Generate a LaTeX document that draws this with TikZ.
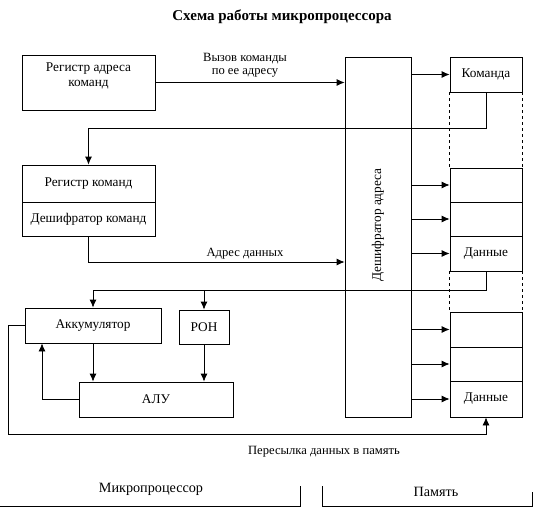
\documentclass[tikz,border=0pt]{standalone}
\usepackage{fontspec}
\setmainfont{Liberation Serif}
\usetikzlibrary{positioning,arrows.meta,calc}

\begin{document}
\begin{tikzpicture}[
  x=1pt,y=-1pt,
  line width=0.8pt,
  every node/.style={font=\fontsize{13.3}{15}\selectfont},
  box/.style={draw,rectangle,inner sep=0pt},
  mem/.style={box,minimum width=72pt},
  arr/.style={-{Latex[length=8pt,width=7pt]}},
  small label/.style={font=\fontsize{12.6}{13.5}\selectfont,align=center}
]
\useasboundingbox (0,0) rectangle (535,508);

% ==================================================
% Заголовок
% ==================================================
\node[font=\fontsize{15}{17}\selectfont\bfseries] (title) at (282,17)
  {Схема работы микропроцессора};

% ==================================================
% Микропроцессор
% ==================================================
\begin{scope}

  % регистры
  \node[box,minimum width=133pt,minimum height=55pt] (rac) at (88.5,82.5) {};
  \node[align=center] (racText) at (88.5,76) {Регистр адреса\\команд};

  \node[box,minimum width=133pt,minimum height=37pt] (rk) at (88.5,183.5)
    {Регистр команд};
  \node[box,minimum width=133pt,minimum height=34pt] (dk) at (88.5,219)
    {Дешифратор команд};

  % аккумулятор, РОН, АЛУ
  \node[box,minimum width=136pt,minimum height=35pt] (acc) at (93,325.5)
    {Аккумулятор};
  \node[box,minimum width=50pt,minimum height=34pt] (ron) at (204,327)
    {РОН};
  \node[box,minimum width=154pt,minimum height=35pt] (alu) at (156,399.5)
    {АЛУ};

\end{scope}

% ==================================================
% Дешифратор адреса и память
% ==================================================
\begin{scope}

  \node[box,minimum width=66pt,minimum height=360pt] (dec) at (378,237) {};
  \node[rotate=90] (decText) at (378,225) {Дешифратор адреса};

  % ячейки памяти
  \foreach \n/\t/\b/\s in {cmd/57/92/Команда, m1/168/202/{}, m2/202/236/{},
      d1/236/271/Данные, m3/312/347/{}, m4/347/381/{}, d2/381/417/Данные}{
    \pgfmathsetmacro\h{\b-\t}
    \pgfmathsetmacro\c{(\t+\b)/2}
    \node[mem,minimum height=\h pt] (\n) at (486,\c) {\s};
  }

  % пропуски между группами
  \foreach \a/\z in {cmd/m1,d1/m3}{
    \draw[dashed] (\a.south west) -- (\a.south west |- \z.north);
    \draw[dashed] (\a.south east) -- (\a.south east |- \z.north);
  }

  % выходы дешифратора
  \foreach \n in {cmd,m1,m2,d1,m3,m4,d2}
    \draw[arr] (dec.east |- \n.west) -- (\n.west);

\end{scope}

% ==================================================
% Связи
% ==================================================
\coordinate (busA) at (0,128);
\coordinate (busB) at (0,262);
\coordinate (busC) at (0,290);
\coordinate (loop) at (42,0);
\coordinate (back) at (8,434);

\draw[arr] (rac.east) -- (dec.west |- rac.east);
\node[small label] (callLabel) at (245,65) {Вызов команды\\по ее адресу};

\draw[arr] (cmd.south) |- (busA -| rk.north) -- (rk.north);

\draw[arr] (dk.south) |- (dec.west |- busB);
\node[small label] (addrLabel) at (245,254) {Адрес данных};

\draw[arr] (d1.south) |- (busC -| acc.north) -- (acc.north);
\draw[arr] (busC -| ron.north) -- (ron.north);

\draw[arr] (acc.south) -- (acc.south |- alu.north);
\draw[arr] (ron.south) -- (ron.south |- alu.north);
\draw[arr] (alu.west) -| (loop |- acc.south);

\draw[arr] (acc.west) -| (back) -| (d2.south);
\node[small label] (sendLabel) at (324,452) {Пересылка данных в память};

% ==================================================
% Подписи снизу
% ==================================================
\draw (0,506) -- (300,506) -- (300,486);
\draw (322,486) -- (322,506) -- (532,506) -- (532,492);
\node[font=\fontsize{14.2}{16}\selectfont] (cpuLabel) at (151,489) {Микропроцессор};
\node[font=\fontsize{14.2}{16}\selectfont] (memLabel) at (436,492) {Память};

\end{tikzpicture}
\end{document}
